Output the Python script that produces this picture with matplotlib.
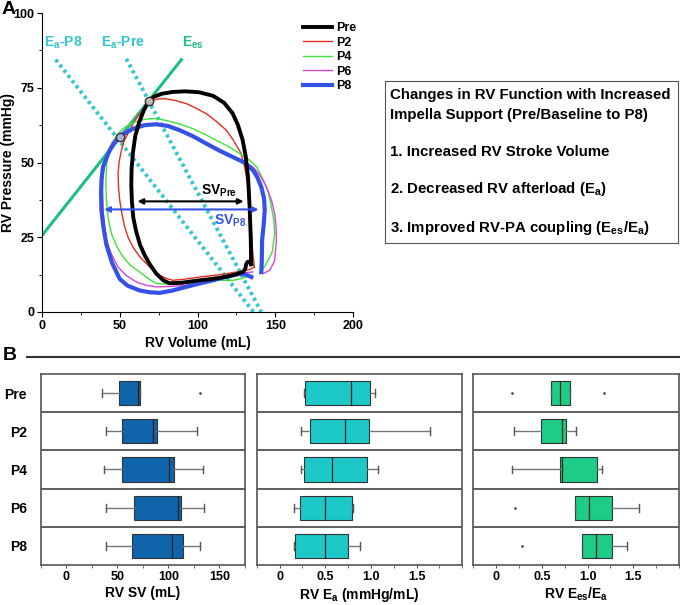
import matplotlib
matplotlib.use('Agg')
import matplotlib.pyplot as plt
from matplotlib.lines import Line2D
from matplotlib.ticker import MultipleLocator, FixedLocator

plt.rcParams['font.family'] = ['Liberation Sans', 'DejaVu Sans']
plt.rcParams['font.weight'] = 'bold'
plt.rcParams['axes.labelweight'] = 'bold'
plt.rcParams['mathtext.fontset'] = 'custom'
plt.rcParams['mathtext.bf'] = 'Liberation Sans:bold'
plt.rcParams['mathtext.rm'] = 'Liberation Sans:bold'
plt.rcParams['mathtext.it'] = 'Liberation Sans:bold'

# ---- panel A: pressure-volume loops (volume mL, pressure mmHg) ----
pre_v = [134.5, 134.2, 133.5, 132.5, 131.0, 129.0, 126.0, 122.5, 117.0, 110.0, 101.0, 92.0, 84.0, 77.0,
         72.0, 68.6, 65.5, 62.5, 60.0, 58.5, 57.6, 57.4, 57.8, 58.7, 60.5, 63.0, 66.0, 69.5, 73.5, 78.0,
         82.0, 90.0, 100.0, 110.0, 118.5, 125.0, 129.5, 130.8, 131.2, 132.2, 133.6, 134.5]
pre_p = [16.0, 25.0, 35.0, 45.0, 52.0, 57.5, 62.5, 66.5, 70.0, 72.3, 73.5, 73.8, 73.6, 73.0,
         72.0, 70.5, 67.5, 63.5, 59.0, 53.5, 48.0, 42.5, 37.0, 31.5, 27.0, 22.5, 19.0, 15.8, 12.8, 10.6,
         9.6, 9.8, 10.5, 11.1, 11.8, 12.6, 13.5, 14.6, 15.9, 16.8, 16.8, 16.0]

p2_v = [136.5, 135.5, 134.6, 133.5, 132.5, 130.5, 128.0, 123.0, 118.5, 112.0, 105.7, 99.0, 92.8, 86.0,
        80.0, 75.0, 71.4, 67.0, 62.8, 59.0, 56.4, 53.0, 51.0, 49.5, 48.9, 49.2, 50.0, 51.5, 53.2, 55.5,
        58.5, 62.5, 67.1, 71.5, 75.7, 80.0, 84.2, 92.0, 101.4, 110.0, 118.5, 125.0, 131.4, 134.0, 136.5]
p2_p = [15.0, 20.0, 26.2, 34.0, 41.8, 48.0, 53.0, 57.5, 60.8, 63.8, 66.3, 68.2, 69.7, 70.7,
        71.3, 71.3, 70.8, 68.8, 66.3, 63.5, 60.8, 57.5, 54.0, 50.0, 46.3, 41.5, 37.3, 32.5, 28.4, 24.8,
        21.7, 18.7, 16.2, 14.0, 12.3, 11.2, 10.6, 11.0, 11.7, 12.2, 12.8, 13.4, 13.9, 14.3, 15.0]

p4_v = [140.0, 144.3, 148.0, 149.6, 149.0, 147.5, 145.5, 142.5, 138.0, 133.0, 127.1, 120.0, 112.1, 104.5,
        97.1, 90.0, 84.2, 78.5, 73.5, 68.0, 62.8, 57.0, 52.1, 48.0, 44.6, 42.5, 41.4, 41.0, 41.4, 42.5,
        44.6, 48.0, 52.1, 57.0, 62.8, 68.0, 73.5, 82.0, 90.7, 100.0, 110.0, 117.0, 122.8, 127.0, 131.4, 135.0]
p4_p = [12.8, 16.2, 20.0, 26.2, 31.0, 35.1, 40.0, 44.0, 48.5, 51.0, 53.0, 55.3, 57.4, 59.5,
        61.3, 62.6, 63.5, 64.2, 64.7, 64.6, 64.1, 63.0, 61.3, 59.0, 56.3, 52.5, 48.5, 43.0, 37.3, 31.5,
        26.2, 22.0, 18.4, 15.5, 13.4, 11.3, 9.5, 9.3, 9.5, 10.0, 10.6, 10.6, 10.6, 11.0, 11.7, 12.3]

p6_v = [142.0, 146.5, 149.5, 150.7, 150.5, 149.6, 147.5, 144.3, 140.5, 135.7, 129.5, 122.8, 114.0, 105.7,
        98.0, 90.7, 84.0, 77.8, 71.5, 65.0, 58.5, 52.1, 47.5, 43.5, 41.0, 39.2, 38.8, 39.2, 40.0, 41.4,
        44.5, 48.9, 54.0, 60.7, 66.5, 73.5, 82.0, 90.7, 100.0, 110.0, 118.5, 127.1, 132.0, 135.7]
p6_p = [12.8, 14.0, 17.0, 24.0, 28.5, 32.9, 37.5, 41.8, 45.5, 48.5, 50.3, 51.8, 54.0, 56.3,
        58.3, 60.2, 61.5, 62.4, 62.7, 62.4, 61.5, 60.2, 58.0, 55.2, 51.0, 46.3, 41.0, 35.1, 29.5, 24.0,
        19.5, 15.0, 12.3, 10.0, 9.0, 8.4, 8.5, 8.9, 9.6, 10.6, 11.6, 12.8, 13.2, 13.4]

p8_v = [141.0, 141.3, 141.5, 142.5, 143.2, 142.8, 141.0, 138.5, 135.7, 130.0, 122.8, 114.0, 105.7, 97.0,
        88.5, 81.0, 73.5, 66.0, 58.5, 54.0, 50.0, 46.5, 43.5, 41.0, 39.2, 38.2, 38.0, 38.2, 39.5, 41.4,
        45.0, 49.9, 55.0, 62.8, 69.0, 75.7, 84.0, 92.8, 101.0, 110.0, 118.5, 127.1, 131.0, 134.6]
p8_p = [13.4, 17.0, 24.0, 29.0, 34.0, 38.0, 41.8, 45.0, 47.4, 50.0, 51.8, 54.0, 56.3, 58.8,
        60.8, 62.2, 62.8, 62.5, 61.3, 60.0, 58.5, 56.5, 54.0, 51.0, 48.5, 44.0, 39.6, 34.0, 28.4, 22.5,
        16.5, 11.1, 8.8, 7.2, 6.6, 6.4, 7.2, 8.4, 9.5, 10.6, 11.8, 12.8, 12.5, 11.7]

ees_v = [0, 89.6]
ees_p = [25.6, 84.4]
ea_pre_v = [54.2, 141.0]
ea_pre_p = [84.7, 0]
ea_p8_v = [8.8, 136.0]
ea_p8_p = [84.4, 0]
es_pre = (68.6, 70.5)
es_p8 = (50.0, 58.5)
sv_pre = (59.6, 131.4, 37.0)
sv_p8 = (38.2, 141.0, 34.3)

# ---- panel B: box stats ----
groups = ['Pre', 'P2', 'P4', 'P6', 'P8']
# lo whisker, q1, median, q3, hi whisker, outliers
sv_stats = [(35, 52, 70, 72, 72, [131]),
            (38.6, 54.9, 85, 89.2, 128, []),
            (36.6, 54.9, 100.3, 105.2, 134, []),
            (38.6, 66.3, 109.5, 112.4, 135.3, []),
            (38.6, 64.7, 103.6, 114.4, 130.7, [])]
ea_stats = [(0.263, 0.278, 0.779, 0.995, 1.043, []),
            (0.238, 0.337, 0.721, 0.981, 1.647, []),
            (0.238, 0.263, 0.578, 0.962, 1.079, []),
            (0.157, 0.22, 0.501, 0.798, 0.805, []),
            (0.157, 0.165, 0.501, 0.754, 0.878, [])]
ratio_stats = [(0.598, 0.598, 0.699, 0.809, 0.809, [0.171, 1.184]),
               (0.197, 0.495, 0.718, 0.765, 0.871, []),
               (0.178, 0.699, 0.725, 1.10, 1.162, []),
               (0.867, 0.867, 1.02, 1.264, 1.563, [0.208]),
               (0.936, 0.936, 1.093, 1.264, 1.428, [0.281])]


def bold_ticks(ax):
    for t in ax.get_xticklabels() + ax.get_yticklabels():
        t.set_fontweight('bold')


def draw_loops(ax):
    ax.plot(ees_v, ees_p, color='#1dbf7c', lw=2.2)
    ax.plot(ea_pre_v, ea_pre_p, color='#33c6cc', lw=2.8, ls=(0, (0.8, 0.9)))
    ax.plot(ea_p8_v, ea_p8_p, color='#33c6cc', lw=2.8, ls=(0, (0.8, 0.9)))

    ax.plot(p2_v, p2_p, color='#e52b1f', lw=1.0, label='P2')
    ax.plot(p4_v, p4_p, color='#3ee23e', lw=1.0, label='P4')
    ax.plot(p6_v, p6_p, color='#d545d8', lw=1.0, label='P6')
    ax.plot(p8_v, p8_p, color='#3552e6', lw=3.0, label='P8', solid_joinstyle='round')
    ax.plot(pre_v, pre_p, color='black', lw=2.8, label='Pre', solid_joinstyle='round')

    ax.plot(*es_pre, 'o', ms=6, mfc='#bdbdbd', mec='#333333', mew=1)
    ax.plot(*es_p8, 'o', ms=6, mfc='#a8b4d6', mec='#333333', mew=1)

    ax.annotate('', xy=(sv_pre[0], sv_pre[2]), xytext=(sv_pre[1], sv_pre[2]),
                arrowprops=dict(arrowstyle='<|-|>', color='black', lw=1.5, mutation_scale=8))
    ax.annotate('', xy=(sv_p8[0], sv_p8[2]), xytext=(sv_p8[1], sv_p8[2]),
                arrowprops=dict(arrowstyle='<|-|>', color='#3552e6', lw=1.5, mutation_scale=8))
    ax.text(114, 40.5, r'SV$_\mathbf{Pre}$', fontsize=10, ha='center', va='center')
    ax.text(121, 30.5, r'SV$_\mathbf{P8}$', fontsize=10, ha='center', va='center', color='#3552e6')

    ax.text(13.5, 90, r'E$_\mathbf{a}$-P8', fontsize=10, ha='center', va='center', color='#33c6cc')
    ax.text(52, 90, r'E$_\mathbf{a}$-Pre', fontsize=10, ha='center', va='center', color='#33c6cc')
    ax.text(97, 90, r'E$_\mathbf{es}$', fontsize=10, ha='center', va='center', color='#1dbf7c')

    h, l = ax.get_legend_handles_labels()
    order = [4, 0, 1, 2, 3]
    ax.legend([h[i] for i in order], [l[i] for i in order], loc='upper left',
              bbox_to_anchor=(0.82, 0.99), frameon=False, prop=dict(size=9, weight='bold'),
              handlelength=2.3, labelspacing=0.2, handletextpad=0.3, borderpad=0)

    ax.set_xlim(0, 200)
    ax.set_ylim(0, 100)
    ax.xaxis.set_major_locator(MultipleLocator(50))
    ax.xaxis.set_minor_locator(MultipleLocator(25))
    ax.yaxis.set_major_locator(MultipleLocator(25))
    ax.yaxis.set_minor_locator(MultipleLocator(12.5))
    ax.spines['top'].set_visible(False)
    ax.spines['right'].set_visible(False)
    ax.tick_params(labelsize=9, pad=2)
    bold_ticks(ax)
    ax.set_xlabel('RV Volume (mL)', fontsize=10, fontweight='bold', labelpad=3)
    ax.set_ylabel('RV Pressure (mmHg)', fontsize=10, fontweight='bold')
    ax.yaxis.set_label_coords(-0.088, 0.5)


def draw_boxes(ax, stats, color, xlabel, xlim, ticks, minor, fmt):
    bxp_stats = []
    for lo, q1, med, q3, hi, out in stats:
        bxp_stats.append(dict(whislo=lo, q1=q1, med=med, q3=q3, whishi=hi, fliers=out))
    ax.bxp(bxp_stats, positions=range(1, 6), orientation='horizontal', widths=0.63,
           patch_artist=True, showfliers=True,
           boxprops=dict(facecolor=color, edgecolor='#333333', lw=0.8),
           medianprops=dict(color='#222222', lw=0.9),
           whiskerprops=dict(color='#777777', lw=1.0),
           capprops=dict(color='#555555', lw=1.0),
           capwidths=0.2,
           flierprops=dict(marker='.', ms=2, mfc='#555555', mec='#555555'))
    for y in [1.5, 2.5, 3.5, 4.5]:
        ax.axhline(y, color='#444444', lw=1.2)
    ax.set_ylim(5.5, 0.5)
    ax.set_xlim(*xlim)
    ax.xaxis.set_major_locator(FixedLocator(ticks))
    ax.xaxis.set_minor_locator(MultipleLocator(minor))
    ax.xaxis.set_major_formatter(fmt)
    for s in ax.spines.values():
        s.set_color('#555555')
        s.set_linewidth(1.2)
    ax.tick_params(axis='x', labelsize=9, length=2.5, color='#555555', pad=2)
    ax.tick_params(axis='x', which='minor', length=2, color='#555555')
    bold_ticks(ax)
    ax.set_xlabel(xlabel, fontsize=10, fontweight='bold', labelpad=2)


def main():
    fig = plt.figure(figsize=(6.8, 6.05), dpi=100)

    ax_a = fig.add_axes([0.0618, 0.4843, 0.4574, 0.4942])
    draw_loops(ax_a)

    ax_t = fig.add_axes([385 / 680, 1 - 243 / 605, 293 / 680, 162 / 605])
    ax_t.set_xticks([])
    ax_t.set_yticks([])
    for s in ax_t.spines.values():
        s.set_color('#555555')
    lines = ['Changes in RV Function with Increased',
             'Impella Support (Pre/Baseline to P8)',
             '1. Increased RV Stroke Volume',
             r'2. Decreased RV afterload (E$_\mathbf{a}$)',
             r'3. Improved RV-PA coupling (E$_\mathbf{es}$/E$_\mathbf{a}$)']
    ys = [95, 115, 152, 189, 228]
    for txt, y in zip(lines, ys):
        ax_t.text(5 / 293, (243 - y) / 162, txt, fontsize=10.8, fontweight='bold', va='center',
                  ha='left', transform=ax_t.transAxes)

    fig.text(0.002, 0.984, 'A', fontsize=14, fontweight='bold', va='center')
    fig.text(0.004, 0.412, 'B', fontsize=14, fontweight='bold', va='center')
    fig.add_artist(Line2D([27 / 680, 1.0], [1 - 357 / 605, 1 - 357 / 605], color='#333333', lw=1.5))

    b = 0.0660
    h = 0.316
    ax1 = fig.add_axes([0.0599, b, 0.3004, h])
    ax2 = fig.add_axes([0.3775, b, 0.3024, h])
    ax3 = fig.add_axes([0.696, b, 0.3025, h])
    dec = lambda x, pos: '0' if x == 0 else f'{x:.1f}'
    draw_boxes(ax1, sv_stats, '#0f64aa', 'RV SV (mL)', (-25, 175), [0, 50, 100, 150], 25, '{x:.0f}')
    draw_boxes(ax2, ea_stats, '#1cc8c8', r'RV E$_\mathbf{a}$ (mmHg/mL)', (-0.25, 2.0),
               [0, 0.5, 1.0, 1.5], 0.25, dec)
    draw_boxes(ax3, ratio_stats, '#1dcc86', r'RV E$_\mathbf{es}$/E$_\mathbf{a}$', (-0.25, 2.0),
               [0, 0.5, 1.0, 1.5], 0.25, dec)
    ax1.set_yticks(range(1, 6))
    ax1.set_yticklabels(groups, fontsize=10, fontweight='bold')
    ax1.tick_params(axis='y', length=0, pad=10)
    ax2.set_yticks([])
    ax3.set_yticks([])

    fig.savefig('out.png', dpi=100)


main()
